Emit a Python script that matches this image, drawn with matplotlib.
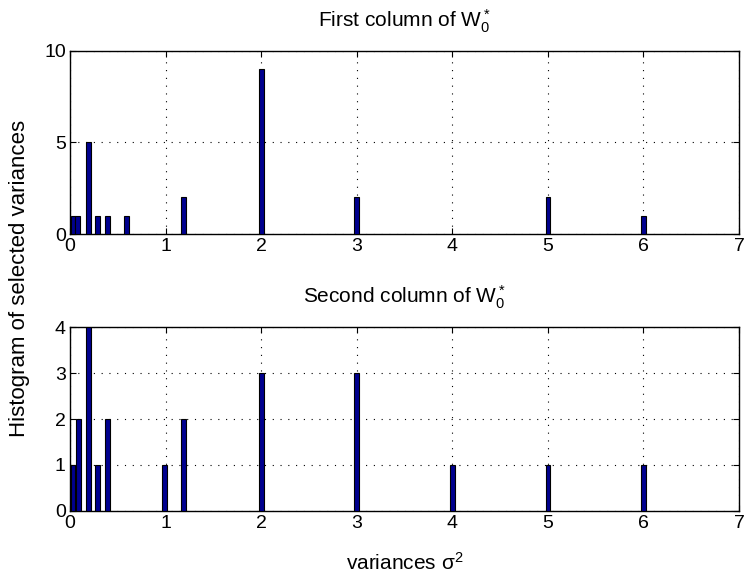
import matplotlib
matplotlib.use("Agg")
import matplotlib.pyplot as plt

plt.rcParams['font.family'] = ['Liberation Sans', 'DejaVu Sans']
plt.rcParams['mathtext.fontset'] = 'custom'
plt.rcParams['mathtext.rm'] = 'Liberation Sans'
plt.rcParams['mathtext.it'] = 'Liberation Sans:italic'

# first column histogram
var_first = [0.03, 0.08, 0.19, 0.29, 0.39, 0.59, 1.19, 2.0, 3.0, 5.0, 6.0]
cnt_first = [1, 1, 5, 1, 1, 1, 2, 9, 2, 2, 1]

# second column histogram
var_second = [0.03, 0.085, 0.19, 0.29, 0.39, 0.985, 1.19, 2.0, 3.0, 4.0, 5.0, 6.0]
cnt_second = [1, 2, 4, 1, 2, 1, 2, 3, 3, 1, 1, 1]

x_ticks = [0, 1, 2, 3, 4, 5, 6, 7]
y_ticks_first = [0, 5, 10]
y_ticks_second = [0, 1, 2, 3, 4]

bar_w = 0.05
fs_tick = 14
fs_txt = 15

fig = plt.figure(figsize=(7.45, 5.74), dpi=100)
ax1 = fig.add_axes([0.094, 0.592, 0.898, 0.320])
ax2 = fig.add_axes([0.094, 0.110, 0.898, 0.320])


def style(ax, yt):
    ax.set_xlim(0, 7)
    ax.set_ylim(yt[0], yt[-1])
    ax.set_xticks(x_ticks)
    ax.set_yticks(yt)
    ax.grid(True, linestyle=(0, (1, 6)), color='black', linewidth=0.8)
    ax.set_axisbelow(True)
    ax.tick_params(direction='in', top=True, right=True, labelsize=fs_tick,
                   length=4, width=0.8, pad=3)
    for s in ax.spines.values():
        s.set_linewidth(1.0)


ax1.bar(var_first, cnt_first, width=bar_w, color='#00008F', edgecolor='black',
        linewidth=0.8, zorder=3)
style(ax1, y_ticks_first)
ax1.set_title('First column of W$_0^*$', fontsize=fs_txt, pad=17)

ax2.bar(var_second, cnt_second, width=bar_w, color='#00008F', edgecolor='black',
        linewidth=0.8, zorder=3)
style(ax2, y_ticks_second)
ax2.set_title('Second column of W$_0^*$', fontsize=fs_txt, pad=17)
ax2.set_xlabel(r'variances $\mathregular{\sigma^2}$', fontsize=fs_txt, labelpad=14)

fig.text(0.026, 0.515, 'Histogram of selected variances', rotation=90,
         fontsize=16, ha='center', va='center')

fig.savefig('out.png', dpi=100)
